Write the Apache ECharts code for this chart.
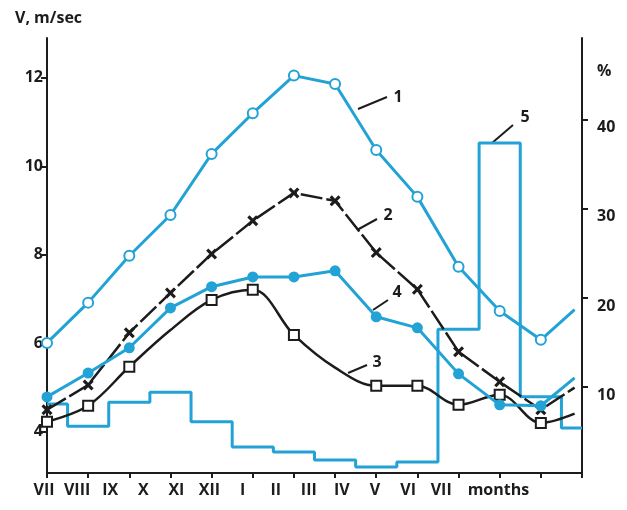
<!DOCTYPE html>
<html><head><meta charset="utf-8">
<script src="https://cdn.jsdelivr.net/npm/echarts@6/dist/echarts.min.js"></script>
<style>html,body{margin:0;padding:0;background:#fff}#c{width:627px;height:510px}</style>
</head><body><div id="c"></div>
<script>
// ---- data ----
const monthLabels = ['VII','VIII','IX','X','XI','XII','I','II','III','IV','V','VI','VII','','months'];
const xPos   = [0,1,2,3,4,5,6,7,8,9,10,11,12,12.82];
const curve1 = [6.01,6.92,7.98,8.90,10.28,11.20,12.05,11.86,10.37,9.31,7.73,6.73,6.08,6.76];
const curve2 = [4.50,5.06,6.24,7.14,8.02,8.77,9.40,9.22,8.05,7.22,5.81,5.13,4.50,5.00];
const curve3 = [4.23,4.59,5.47,6.30,6.98,7.21,6.19,5.45,5.04,5.04,4.61,4.84,4.20,4.41];
const curve4 = [4.79,5.33,5.90,6.80,7.28,7.50,7.50,7.64,6.60,6.35,5.31,4.61,4.59,5.22];
const stepX  = [0,1,2,3,4,5,6,7,8,9,10,11,12,13];
const step5  = [8.1,5.6,8.3,9.4,6.1,3.26,2.7,1.8,1.0,1.57,16.5,37.4,8.9,5.4];
const leftTicks  = [4,6,8,10,12];
const rightTicks = [10,20,30,40];
const noMarker1 = [13], noMarker2 = [13], noMarker3 = [3,7,13], noMarker4 = [13];

// ---- styles ----
const CYAN = '#22a2d5', BLACK = '#1c1c1c';
const FONT = '"Open Sans","Noto Sans",sans-serif';
const xSym = 'path://M0,2L2,0L5,3L8,0L10,2L7,5L10,8L8,10L5,7L2,10L0,8L3,5Z';

function pts(ys, hidden){
  return ys.map((y,i)=>{
    const it = {value:[xPos[i], y]};
    if (hidden.includes(i)) it.symbol = 'none';
    return it;
  });
}

const chart = echarts.init(document.getElementById('c'), null, {renderer:'canvas'});
const lab = {color:BLACK, fontFamily:FONT, fontWeight:'bold', fontSize:16};

chart.setOption({
  backgroundColor:'#fff',
  animation:false,
  grid:[
    {left:47, right:45, top:38, bottom:37},
    {left:27.45, width:496.5, top:38, bottom:37}
  ],
  xAxis:[
    {gridIndex:0, type:'value', min:0, max:13, interval:1,
     axisLine:{show:true, onZero:false, lineStyle:{color:BLACK, width:2}},
     axisTick:{show:true, length:5, lineStyle:{color:BLACK, width:2}},
     axisLabel:{show:false}, splitLine:{show:false}},
    {gridIndex:1, type:'category', data:monthLabels, boundaryGap:true,
     axisLine:{show:false}, axisTick:{show:false}, splitLine:{show:false},
     axisLabel:Object.assign({interval:0, margin:9,
       formatter:v => v==='months' ? '{m|months}' : v,
       rich:{m:Object.assign({padding:[0,18,0,0]}, lab)}}, lab)}
  ],
  yAxis:[
    {gridIndex:0, type:'value', position:'left', min:3.07, max:12.9,
     axisLine:{show:true, onZero:false, lineStyle:{color:BLACK, width:2}},
     axisTick:{show:true, length:6, customValues:leftTicks, lineStyle:{color:BLACK, width:2}},
     axisLabel:Object.assign({customValues:leftTicks, margin:4}, lab),
     splitLine:{show:false}},
    {gridIndex:0, type:'value', position:'right', min:0.34, max:49.2,
     axisLine:{show:true, onZero:false, lineStyle:{color:BLACK, width:2}},
     axisTick:{show:true, length:6, customValues:rightTicks, lineStyle:{color:BLACK, width:2}},
     axisLabel:Object.assign({customValues:rightTicks, margin:15, verticalAlign:'top'}, lab),
     splitLine:{show:false}},
    {gridIndex:1, type:'value', show:false}
  ],
  series:[
    {name:'5', type:'line', xAxisIndex:0, yAxisIndex:1, step:'middle', symbol:'none',
     data:stepX.map((x,i)=>[x, step5[i]]), lineStyle:{color:CYAN, width:3}, z:1},
    {name:'3', type:'line', xAxisIndex:0, yAxisIndex:0, smooth:0.35, symbol:'emptyRect', symbolSize:10,
     data:pts(curve3, noMarker3), lineStyle:{color:BLACK, width:2.5},
     itemStyle:{color:BLACK, borderWidth:2.5}, z:3},
    {name:'2', type:'line', xAxisIndex:0, yAxisIndex:0, symbol:xSym, symbolSize:11,
     data:pts(curve2, noMarker2), lineStyle:{color:BLACK, width:2.5, type:[22,4]},
     itemStyle:{color:BLACK}, z:3},
    {name:'4', type:'line', xAxisIndex:0, yAxisIndex:0, symbol:'circle', symbolSize:11,
     data:pts(curve4, noMarker4), lineStyle:{color:CYAN, width:3},
     itemStyle:{color:CYAN}, z:4},
    {name:'1', type:'line', xAxisIndex:0, yAxisIndex:0, symbol:'emptyCircle', symbolSize:10,
     data:pts(curve1, noMarker1), lineStyle:{color:CYAN, width:3},
     itemStyle:{color:CYAN, borderWidth:2.5}, z:4}
  ],
  graphic:[
    {type:'text', left:15, top:10, style:{text:'V, m/sec', fill:BLACK, font:'bold 16px '+FONT}},
    {type:'text', left:597, top:63, style:{text:'%', fill:BLACK, font:'bold 16px '+FONT}},
    {type:'line', shape:{x1:358,y1:109,x2:387,y2:97}, style:{stroke:BLACK, lineWidth:2}},
    {type:'text', x:398, y:97, style:{text:'1', fill:BLACK, font:'bold 16px '+FONT, align:'center', verticalAlign:'middle'}},
    {type:'line', shape:{x1:357,y1:230,x2:377,y2:219}, style:{stroke:BLACK, lineWidth:2}},
    {type:'text', x:388, y:215, style:{text:'2', fill:BLACK, font:'bold 16px '+FONT, align:'center', verticalAlign:'middle'}},
    {type:'line', shape:{x1:348,y1:373,x2:367,y2:365}, style:{stroke:BLACK, lineWidth:2}},
    {type:'text', x:377, y:362, style:{text:'3', fill:BLACK, font:'bold 16px '+FONT, align:'center', verticalAlign:'middle'}},
    {type:'line', shape:{x1:373,y1:310,x2:388,y2:300}, style:{stroke:BLACK, lineWidth:2}},
    {type:'text', x:397, y:292, style:{text:'4', fill:BLACK, font:'bold 16px '+FONT, align:'center', verticalAlign:'middle'}},
    {type:'line', shape:{x1:492,y1:143,x2:513,y2:125}, style:{stroke:BLACK, lineWidth:2}},
    {type:'text', x:525, y:117, style:{text:'5', fill:BLACK, font:'bold 16px '+FONT, align:'center', verticalAlign:'middle'}}
  ]
});
</script>
</body></html>
